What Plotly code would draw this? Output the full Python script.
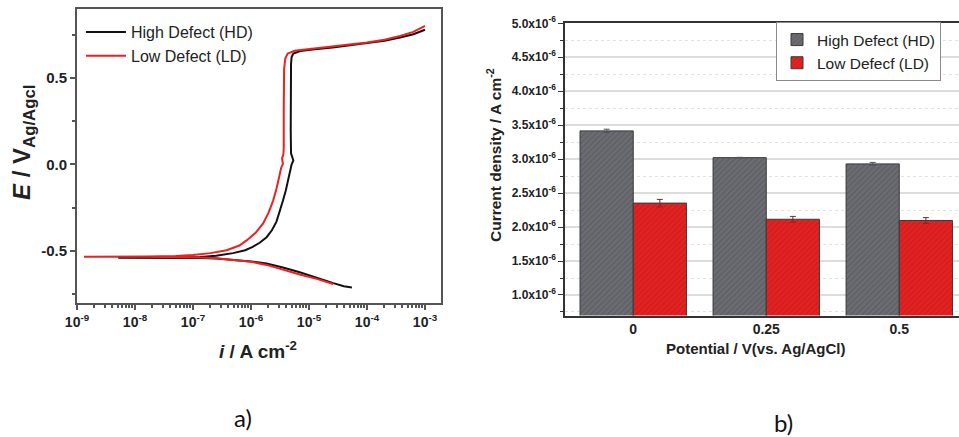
import plotly.graph_objects as go

# ---------------- data: panel a) polarization curves ----------------
HD_I = [5.50e-5, 3.98e-5, 2.63e-5, 1.41e-5, 6.92e-6, 3.55e-6, 1.86e-6, 1.00e-6, 4.90e-7, 2.51e-7,
        1.32e-7, 5.01e-8, 1.58e-8, 5.13e-9,
        1.58e-8, 5.01e-8, 1.32e-7, 2.51e-7, 4.90e-7, 7.94e-7, 1.07e-6, 1.41e-6, 1.86e-6, 2.29e-6,
        2.75e-6, 3.16e-6, 3.55e-6, 3.98e-6, 4.37e-6, 4.61e-6, 5.01e-6, 5.37e-6, 5.13e-6, 4.90e-6,
        4.84e-6, 4.84e-6, 4.90e-6, 5.01e-6, 5.37e-6, 7.08e-6, 1.26e-5, 2.57e-5, 5.01e-5, 1.00e-4,
        2.00e-4, 3.72e-4, 6.31e-4, 1.00e-3]
HD_E = [-0.710, -0.703, -0.685, -0.655, -0.622, -0.595, -0.572, -0.560, -0.549, -0.543,
        -0.540, -0.539, -0.539, -0.539,
        -0.538, -0.537, -0.534, -0.527, -0.512, -0.495, -0.476, -0.452, -0.420, -0.380,
        -0.330, -0.270, -0.210, -0.150, -0.080, -0.050, 0.000, 0.023, 0.045, 0.065,
        0.200, 0.450, 0.580, 0.620, 0.640, 0.655, 0.666, 0.675, 0.687, 0.700,
        0.714, 0.733, 0.752, 0.778]

LD_I = [2.63e-5, 1.41e-5, 6.92e-6, 3.55e-6, 1.86e-6, 1.00e-6, 4.90e-7, 2.51e-7, 1.32e-7,
        5.01e-8, 1.58e-8, 5.01e-9, 1.32e-9,
        5.01e-9, 1.58e-8, 5.01e-8, 1.00e-7, 2.00e-7, 3.80e-7, 6.31e-7, 8.51e-7, 1.20e-6, 1.62e-6,
        2.00e-6, 2.40e-6, 2.75e-6, 3.02e-6, 3.31e-6, 3.55e-6, 3.51e-6, 3.43e-6, 3.63e-6, 3.67e-6,
        3.67e-6, 3.72e-6, 3.89e-6, 4.27e-6, 5.62e-6, 1.00e-5, 2.57e-5, 5.01e-5, 1.00e-4,
        2.00e-4, 3.72e-4, 6.31e-4, 1.00e-3]
LD_E = [-0.690, -0.662, -0.635, -0.605, -0.580, -0.562, -0.550, -0.542, -0.537,
        -0.534, -0.533, -0.533, -0.533,
        -0.532, -0.531, -0.528, -0.523, -0.512, -0.495, -0.468, -0.437, -0.395, -0.340,
        -0.280, -0.210, -0.140, -0.075, -0.020, 0.004, 0.020, 0.035, 0.060, 0.100,
        0.300, 0.550, 0.610, 0.640, 0.657, 0.667, 0.680, 0.692, 0.705,
        0.720, 0.742, 0.766, 0.800]

X_TICK_VALS = [1e-9, 1e-8, 1e-7, 1e-6, 1e-5, 1e-4, 1e-3]
X_TICK_TEXT = ["10<sup>-9</sup>", "10<sup>-8</sup>", "10<sup>-7</sup>", "10<sup>-6</sup>",
               "10<sup>-5</sup>", "10<sup>-4</sup>", "10<sup>-3</sup>"]
Y_TICK_VALS = [-0.5, 0.0, 0.5]
Y_TICK_TEXT = ["-0.5", "0.0", "0.5"]

# ---------------- data: panel b) bar chart ----------------
POTENTIALS = ["0", "0.25", "0.5"]
HD_CURRENT = [3.416e-6, 3.022e-6, 2.930e-6]
HD_ERR = [0.025e-6, 0.005e-6, 0.022e-6]
LD_CURRENT = [2.353e-6, 2.115e-6, 2.097e-6]
LD_ERR = [0.054e-6, 0.042e-6, 0.042e-6]
B_TICK_VALS = [1.0e-6, 1.5e-6, 2.0e-6, 2.5e-6, 3.0e-6, 3.5e-6, 4.0e-6, 4.5e-6, 5.0e-6]
B_TICK_TEXT = ["1.0x10<sup>-6</sup>", "1.5x10<sup>-6</sup>", "2.0x10<sup>-6</sup>",
               "2.5x10<sup>-6</sup>", "3.0x10<sup>-6</sup>", "3.5x10<sup>-6</sup>",
               "4.0x10<sup>-6</sup>", "4.5x10<sup>-6</sup>", "5.0x10<sup>-6</sup>"]

W, H = 959, 437
FONT = "Liberation Sans, Arial, sans-serif"
AX = "#555555"


def px(x):
    return x / W


def py(y):
    return 1 - y / H


fig = go.Figure()

fig.add_trace(go.Scatter(x=HD_I, y=HD_E, mode="lines", name="High Defect (HD)",
                         line=dict(color="#111111", width=2), xaxis="x", yaxis="y",
                         legend="legend"))
fig.add_trace(go.Scatter(x=LD_I, y=LD_E, mode="lines", name="Low Defect (LD)",
                         line=dict(color="#ee2020", width=2), xaxis="x", yaxis="y",
                         legend="legend"))

fig.add_trace(go.Bar(x=POTENTIALS, y=HD_CURRENT, name="High Defect (HD)",
                     error_y=dict(type="data", array=HD_ERR, color="#555555", thickness=1, width=3),
                     marker=dict(color="#6c6d72", line=dict(color="#3a3a3a", width=1),
                                 pattern=dict(shape="/", fgcolor="#4e4f53", bgcolor="#6c6d72",
                                              fillmode="overlay", size=4, solidity=0.35)),
                     xaxis="x2", yaxis="y2", legend="legend2"))
fig.add_trace(go.Bar(x=POTENTIALS, y=LD_CURRENT, name="Low Defecf (LD)",
                     error_y=dict(type="data", array=LD_ERR, color="#7a2a2a", thickness=1, width=3),
                     marker=dict(color="#e42222", line=dict(color="#3a3a3a", width=1),
                                 pattern=dict(shape="/", fgcolor="#b51818", bgcolor="#e42222",
                                              fillmode="overlay", size=4, solidity=0.35)),
                     xaxis="x2", yaxis="y2", legend="legend2"))

fig.update_layout(
    template="none",
    width=W, height=H,
    margin=dict(l=0, r=0, t=0, b=0, pad=0, autoexpand=False),
    paper_bgcolor="white", plot_bgcolor="white",
    font=dict(family=FONT, color="#222222"),
    barmode="group", bargap=0.2, bargroupgap=0,
    xaxis=dict(type="log", domain=[px(77), px(441)], range=[-9, -2.724], automargin=False,
               tickmode="array", tickvals=X_TICK_VALS, ticktext=X_TICK_TEXT,
               tickfont=dict(size=14, weight="bold", color="#222"),
               ticks="outside", ticklen=5, tickwidth=1.5, tickcolor=AX,
               minor=dict(ticks="outside", ticklen=3, tickcolor=AX, dtick="D1", showgrid=False),
               showline=True, linecolor=AX, linewidth=2, mirror=True,
               showgrid=False, zeroline=False, anchor="y"),
    yaxis=dict(domain=[py(303), py(9)], range=[-0.80, 0.898], automargin=False,
               tickmode="array", tickvals=Y_TICK_VALS, ticktext=Y_TICK_TEXT,
               tickfont=dict(size=15, weight="bold", color="#222"),
               ticks="outside", ticklen=5, tickwidth=1.5, tickcolor=AX,
               minor=dict(ticks="outside", ticklen=3, tickcolor=AX, tick0=0.25, dtick=0.5,
                          showgrid=False),
               showline=True, linecolor=AX, linewidth=2, mirror=True,
               showgrid=False, zeroline=False, anchor="x"),
    xaxis2=dict(domain=[px(565), 1.0], range=[-0.513, 2.449], type="category", automargin=False,
                tickfont=dict(size=14, weight="bold", color="#222"),
                ticks="", showline=True, linecolor="#333", linewidth=1.5, mirror=True,
                showgrid=False, zeroline=False, anchor="y2"),
    yaxis2=dict(domain=[py(315.5), py(23.3)], range=[0.698e-6, 5.0e-6], automargin=False,
                tickmode="array", tickvals=B_TICK_VALS, ticktext=B_TICK_TEXT,
                tickfont=dict(size=12, weight="bold", color="#222"),
                ticks="outside", ticklen=5, tickwidth=1, tickcolor="#333",
                showgrid=True, gridcolor="#dcdcdc", gridwidth=1.5,
                minor=dict(ticks="outside", ticklen=3, tickcolor="#333", tick0=0.75e-6,
                           dtick=0.5e-6, showgrid=True, gridcolor="#e2e2e2", griddash="dot",
                           gridwidth=1),
                showline=True, linecolor="#333", linewidth=1.5, mirror=False,
                zeroline=False, anchor="x2"),
    legend=dict(x=px(81), y=py(15), xanchor="left", yanchor="top",
                bgcolor="rgba(0,0,0,0)", font=dict(size=16, color="#222"),
                tracegroupgap=0, itemwidth=40),
    legend2=dict(x=px(776), y=py(22), xanchor="left", yanchor="top",
                 bgcolor="white", bordercolor="#8a8a8a", borderwidth=1,
                 font=dict(size=15.5, color="#222"), tracegroupgap=0),
    showlegend=True,
)

ann = [
    dict(text="<b><i>E</i> / V<sub>Ag/Agcl</sub></b>", x=px(24), y=py(143), textangle=-90,
         font=dict(size=24, color="#222")),
    dict(text="<b><i>i</i> / A cm<sup>-2</sup></b>", x=px(258), y=py(350),
         font=dict(size=19, color="#222")),
    dict(text="<b>Current density / A cm<sup>-2</sup></b>", x=px(494), y=py(155), textangle=-90,
         font=dict(size=15.5, color="#222")),
    dict(text="<b>Potential / V(vs. Ag/AgCl)</b>", x=px(755), y=py(348),
         font=dict(size=15, color="#222")),
    dict(text="a)", x=px(243), y=py(417), font=dict(size=24, family="Lato, sans-serif", color="#111")),
    dict(text="b)", x=px(783), y=py(422), font=dict(size=24, family="Lato, sans-serif", color="#111")),
]
for a in ann:
    a.update(xref="paper", yref="paper", showarrow=False, xanchor="center", yanchor="middle")
fig.update_layout(annotations=ann)

fig.write_html("out.html", config={"displayModeBar": False},
               post_script="document.body.style.margin='0';")
